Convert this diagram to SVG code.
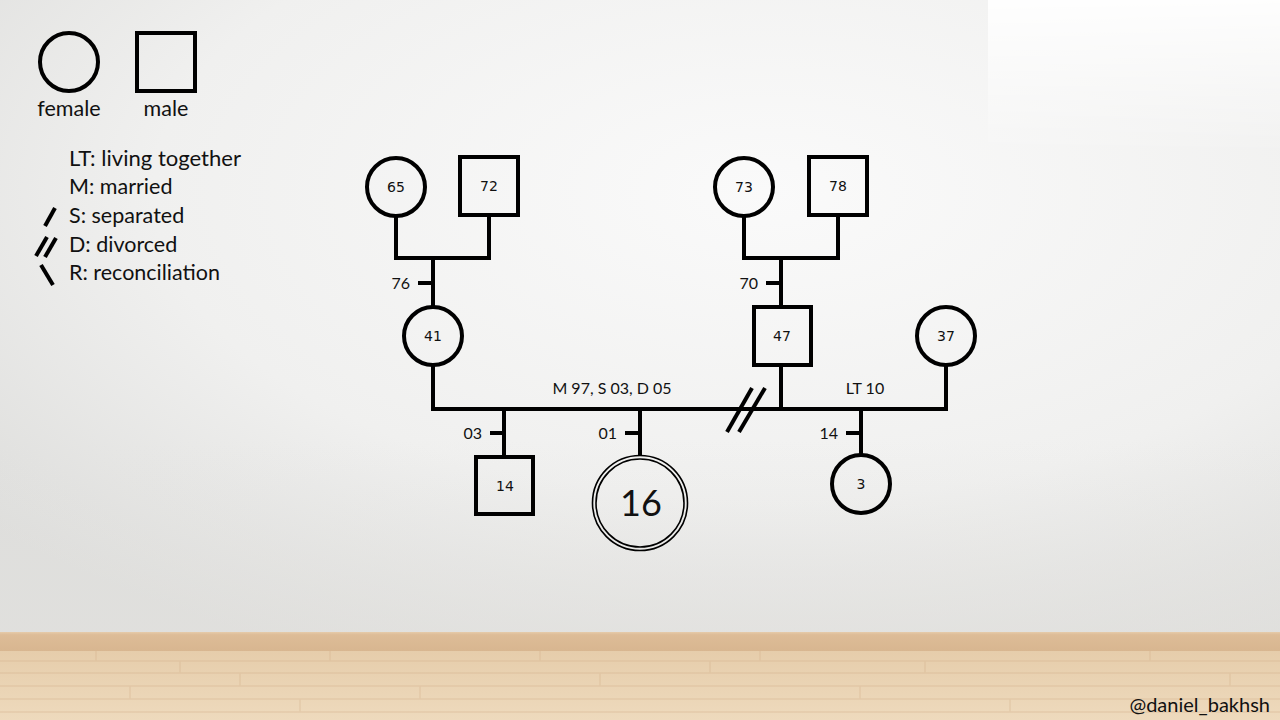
<svg xmlns="http://www.w3.org/2000/svg" width="1280" height="720" viewBox="0 0 1280 720">
<defs>
<radialGradient id="wall" cx="0.6" cy="0.3" r="0.8">
<stop offset="0" stop-color="#fafafa"/>
<stop offset="0.6" stop-color="#f0f0ef"/>
<stop offset="1" stop-color="#dddddb"/>
</radialGradient>
<linearGradient id="wallBottom" x1="0" y1="0" x2="0" y2="1">
<stop offset="0" stop-color="#e4e4e2" stop-opacity="0"/>
<stop offset="1" stop-color="#e2e1de" stop-opacity="0.6"/>
</linearGradient>
<linearGradient id="tr" x1="0" y1="0" x2="0" y2="1">
<stop offset="0" stop-color="#ffffff" stop-opacity="0.9"/>
<stop offset="1" stop-color="#ffffff" stop-opacity="0"/>
</linearGradient>
<linearGradient id="trh" x1="0" y1="0" x2="1" y2="0">
<stop offset="0" stop-color="#ffffff" stop-opacity="0"/>
<stop offset="0.05" stop-color="#ffffff" stop-opacity="1"/>
<stop offset="1" stop-color="#ffffff" stop-opacity="1"/>
</linearGradient>
<mask id="trm"><rect x="988" y="0" width="292" height="160" fill="url(#tr)"/></mask>
<linearGradient id="skirt" x1="0" y1="0" x2="0" y2="1">
<stop offset="0" stop-color="#e6cbaa"/>
<stop offset="0.15" stop-color="#ddbc97"/>
<stop offset="1" stop-color="#d8b690"/>
</linearGradient>
<linearGradient id="floor" x1="0" y1="0" x2="0" y2="1">
<stop offset="0" stop-color="#e6cdab"/>
<stop offset="1" stop-color="#eedabd"/>
</linearGradient>
<style>
.ln{stroke:#000;stroke-width:4;fill:none;stroke-linecap:butt}
.nd{stroke:#000;stroke-width:4;fill:none}
.tx{font-family:Lato,"Open Sans","Liberation Sans",sans-serif;fill:#111}
.num{font-family:"DejaVu Sans",Verdana,sans-serif;font-size:14px;fill:#111;text-anchor:middle}
.lab{font-family:Lato,"Open Sans","Liberation Sans",sans-serif;font-size:16px;fill:#111}
.plank{stroke:#d3b08b;stroke-width:1.5;opacity:0.35}
</style>
</defs>
<g id="background">
<rect width="1280" height="640" fill="url(#wall)"/>
<rect y="440" width="1280" height="200" fill="url(#wallBottom)"/>
<rect x="988" y="0" width="292" height="160" fill="#ffffff" mask="url(#trm)"/>
<rect y="632" width="1280" height="19" fill="url(#skirt)"/>
<rect y="651" width="1280" height="69" fill="url(#floor)"/>
<g class="plank">
<line x1="0" y1="661" x2="1280" y2="661"/>
<line x1="0" y1="673" x2="1280" y2="673"/>
<line x1="0" y1="686" x2="1280" y2="686"/>
<line x1="0" y1="699" x2="1280" y2="699"/>
<line x1="0" y1="712" x2="1280" y2="712"/>
<line x1="96" y1="651" x2="96" y2="661"/>
<line x1="180" y1="661" x2="180" y2="673"/>
<line x1="330" y1="651" x2="330" y2="661"/>
<line x1="240" y1="673" x2="240" y2="686"/>
<line x1="420" y1="686" x2="420" y2="699"/>
<line x1="540" y1="651" x2="540" y2="661"/>
<line x1="600" y1="673" x2="600" y2="686"/>
<line x1="710" y1="661" x2="710" y2="673"/>
<line x1="760" y1="651" x2="760" y2="661"/>
<line x1="860" y1="686" x2="860" y2="699"/>
<line x1="925" y1="661" x2="925" y2="673"/>
<line x1="1010" y1="699" x2="1010" y2="712"/>
<line x1="1150" y1="651" x2="1150" y2="661"/>
<line x1="1230" y1="673" x2="1230" y2="686"/>
<line x1="300" y1="699" x2="300" y2="712"/>
<line x1="130" y1="686" x2="130" y2="699"/>
</g>
</g>
<g id="legend">
<circle class="nd" cx="69" cy="62" r="29"/>
<rect class="nd" x="137" y="33" width="58" height="58"/>
<text class="tx" x="69" y="116" font-size="21.5" text-anchor="middle">female</text>
<text class="tx" x="166" y="116" font-size="21.5" text-anchor="middle">male</text>
<text class="tx" x="69" y="166" font-size="21.5" textLength="172" lengthAdjust="spacingAndGlyphs">LT: living together</text>
<text class="tx" x="69" y="194" font-size="21.5">M: married</text>
<text class="tx" x="69" y="223" font-size="21.5">S: separated</text>
<text class="tx" x="69" y="252" font-size="21.5">D: divorced</text>
<text class="tx" x="69" y="280" font-size="21.5">R: reconciliation</text>
<line class="ln" x1="55" y1="208" x2="45" y2="226"/>
<line class="ln" x1="47" y1="237" x2="36" y2="256"/>
<line class="ln" x1="56" y1="238" x2="45" y2="257"/>
<line class="ln" x1="41" y1="265" x2="53" y2="285"/>
</g>
<g id="connectors">
<polyline class="ln" points="396,216 396,258 489,258 489,215"/>
<line class="ln" x1="433" y1="258" x2="433" y2="307"/>
<line class="ln" x1="418" y1="283" x2="433" y2="283"/>
<polyline class="ln" points="744,216 744,258 838,258 838,215"/>
<line class="ln" x1="781" y1="258" x2="781" y2="307"/>
<line class="ln" x1="766" y1="283" x2="781" y2="283"/>
<line class="ln" x1="433" y1="365" x2="433" y2="411"/>
<line class="ln" x1="781" y1="365" x2="781" y2="409"/>
<line class="ln" x1="946" y1="365" x2="946" y2="411"/>
<line class="ln" x1="431" y1="409" x2="948" y2="409"/>
<line class="ln" x1="752" y1="388" x2="727" y2="432"/>
<line class="ln" x1="765" y1="388" x2="739" y2="432"/>
<line class="ln" x1="504" y1="409" x2="504" y2="457"/>
<line class="ln" x1="490" y1="433" x2="504" y2="433"/>
<line class="ln" x1="640" y1="409" x2="640" y2="456"/>
<line class="ln" x1="625" y1="433" x2="640" y2="433"/>
<line class="ln" x1="861" y1="409" x2="861" y2="455"/>
<line class="ln" x1="846" y1="433" x2="861" y2="433"/>
<text class="lab" x="410" y="289" text-anchor="end">76</text>
<text class="lab" x="758" y="289" text-anchor="end">70</text>
<text class="lab" x="482" y="439" text-anchor="end">03</text>
<text class="lab" x="617" y="439" text-anchor="end">01</text>
<text class="lab" x="838" y="439" text-anchor="end">14</text>
<text class="lab" x="612" y="394" text-anchor="middle">M 97, S 03, D 05</text>
<text class="lab" x="865" y="394" text-anchor="middle">LT 10</text>
</g>
<g id="n65"><circle class="nd" cx="396" cy="187" r="29"/><text class="num" x="396" y="192">65</text></g>
<g id="n72"><rect class="nd" x="460" y="157" width="58" height="58"/><text class="num" x="489" y="191">72</text></g>
<g id="n41"><circle class="nd" cx="433" cy="336" r="29"/><text class="num" x="433" y="341">41</text></g>
<g id="n73"><circle class="nd" cx="744" cy="187" r="29"/><text class="num" x="744" y="192">73</text></g>
<g id="n78"><rect class="nd" x="809" y="157" width="58" height="58"/><text class="num" x="838" y="191">78</text></g>
<g id="n47"><rect class="nd" x="754" y="307" width="57" height="58"/><text class="num" x="782" y="341">47</text></g>
<g id="n37"><circle class="nd" cx="946" cy="336" r="29"/><text class="num" x="946" y="341">37</text></g>
<g id="n14"><rect class="nd" x="476" y="457" width="57" height="57"/><text class="num" x="505" y="491">14</text></g>
<g id="n16">
<circle cx="640" cy="503" r="47.5" fill="none" stroke="#000" stroke-width="1.6"/>
<circle cx="640" cy="503" r="44" fill="none" stroke="#000" stroke-width="1.6"/>
<text class="tx" x="641" y="516" font-size="36" text-anchor="middle">16</text>
</g>
<g id="n3"><circle class="nd" cx="861" cy="484" r="29"/><text class="num" x="861" y="489">3</text></g>
<text class="tx" x="1270" y="712" font-size="20" text-anchor="end" fill="#222">@daniel_bakhsh</text>
</svg>
